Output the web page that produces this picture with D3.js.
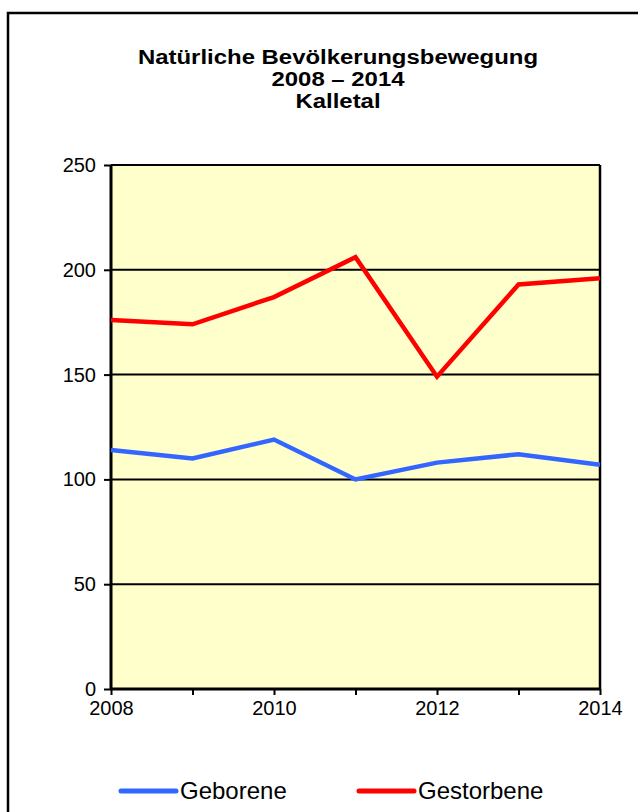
<!DOCTYPE html>
<html>
<head>
<meta charset="utf-8">
<script src="https://cdn.jsdelivr.net/npm/d3@7"></script>
<style>
  body { margin: 0; background: #fff; }
  svg { display: block; font-family: "Liberation Sans", Arial, sans-serif; }
</style>
</head>
<body>
<div id="chart"></div>
<script>
// data
var years = [2008, 2009, 2010, 2011, 2012, 2013, 2014];
var geborene = [114, 110, 119, 100, 108, 112, 107];
var gestorbene = [176, 174, 187, 206, 149, 193, 196];
var yTicks = [0, 50, 100, 150, 200, 250];
var xTickLabels = [2008, 2010, 2012, 2014];
var titleLines = ["Natürliche Bevölkerungsbewegung", "2008 – 2014", "Kalletal"];
var seriesNames = ["Geborene", "Gestorbene"];
var seriesColors = ["#3366ff", "#ff0000"];

var W = 638, H = 812;
var margin = {top: 165, right: 38, bottom: 123, left: 111},
    width = W - margin.left - margin.right,
    height = H - margin.top - margin.bottom;

var svg = d3.select("#chart").append("svg")
  .attr("width", W)
  .attr("height", H);

// outer frame (runs off the picture right and bottom)
svg.append("rect")
  .attr("x", 8).attr("y", 13)
  .attr("width", W + 10).attr("height", H + 10)
  .attr("fill", "none")
  .attr("stroke", "#000")
  .attr("stroke-width", 2.5);

// title - the original font is a bit wider than Liberation Sans, so stretch it
svg.append("g")
  .attr("transform", "translate(338,0) scale(1.14,1)")
  .selectAll("text")
  .data(titleLines)
  .enter().append("text")
  .attr("x", 0)
  .attr("y", function(d, i) { return 64 + i * 22; })
  .attr("text-anchor", "middle")
  .style("font-weight", "bold")
  .style("font-size", "21px")
  .text(function(d) { return d; });

var g = svg.append("g")
  .attr("transform", "translate(" + margin.left + "," + margin.top + ")");

var x = d3.scaleLinear()
  .domain([d3.min(years), d3.max(years)])
  .range([0, width]);

var y = d3.scaleLinear()
  .domain([0, 250])
  .range([height, 0]);

// plot background
g.append("rect")
  .attr("width", width)
  .attr("height", height)
  .attr("fill", "#ffffcc");

// grid lines
g.append("g").selectAll("line")
  .data(yTicks.filter(function(d) { return d > 0; }))
  .enter().append("line")
  .attr("x1", 0).attr("x2", width)
  .attr("y1", function(d) { return y(d); })
  .attr("y2", function(d) { return y(d); })
  .attr("stroke", "#000")
  .attr("stroke-width", 2);

// right border
g.append("line")
  .attr("x1", width).attr("x2", width)
  .attr("y1", 0).attr("y2", height)
  .attr("stroke", "#000")
  .attr("stroke-width", 2.5);

// y axis
var yAxis = g.append("g")
  .call(d3.axisLeft(y).tickValues(yTicks).tickSize(7).tickPadding(8));
yAxis.select(".domain").attr("stroke-width", 3).attr("d", "M0," + height + "V0");
yAxis.selectAll(".tick line").attr("stroke-width", 2);
yAxis.selectAll("text").style("font-size", "20px").attr("fill", "#000");

// x axis
var xAxis = g.append("g")
  .attr("transform", "translate(0," + height + ")")
  .call(d3.axisBottom(x).tickValues(years).tickSize(6).tickPadding(6)
    .tickFormat(function(d) { return xTickLabels.indexOf(d) >= 0 ? d : ""; }));
xAxis.select(".domain").attr("stroke-width", 3).attr("d", "M0,0H" + width);
xAxis.selectAll(".tick line").attr("stroke-width", 2);
xAxis.selectAll("text").style("font-size", "20px").attr("fill", "#000");

// lines
var line = d3.line()
  .x(function(d, i) { return x(years[i]); })
  .y(function(d) { return y(d); });

[geborene, gestorbene].forEach(function(s, k) {
  g.append("path")
    .datum(s)
    .attr("d", line)
    .attr("fill", "none")
    .attr("stroke", seriesColors[k])
    .attr("stroke-width", 4.5)
    .attr("stroke-linejoin", "miter");
});

// legend
var legendX = [121, 359];
var leg = svg.append("g").selectAll("g")
  .data(seriesNames)
  .enter().append("g")
  .attr("transform", function(d, i) { return "translate(" + legendX[i] + ",791)"; });

leg.append("line")
  .attr("x1", 0).attr("x2", 55)
  .attr("stroke", function(d, i) { return seriesColors[i]; })
  .attr("stroke-width", 5)
  .attr("stroke-linecap", "round");

leg.append("text")
  .attr("x", 59)
  .attr("y", 8)
  .style("font-size", "24px")
  .text(function(d) { return d; });
</script>
</body>
</html>
